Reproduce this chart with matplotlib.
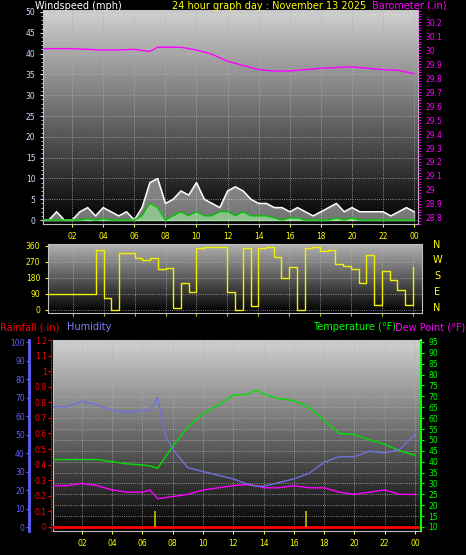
import numpy as np
import matplotlib
matplotlib.use("Agg")
import matplotlib.pyplot as plt
from matplotlib.ticker import MultipleLocator, FuncFormatter

# ---------------- data ----------------
half_hours = [i * 0.5 for i in range(49)]
wind_gust = [0,0,2,0,0,2,3,1,3,2,1,2,0,3,9,10,4,5,7,6,9,5,4,3,7,8,7,5,4,4,3,3,2,3,2,1,2,3,4,2,3,2,2,2,2,1,2,3,2]
wind_speed = [0,0,0,0,0,0,0.3,0,0.3,0,0,0,0,1,4,3,0,1,2,1,2,1,1,2,2,1,2,1,1,1,0.5,0,0.5,0.5,0,0,0,0,0.5,0,0.5,0,0,0,0,0,0,0,0]
wind_dir = [90,90,90,90,90,90,90,340,65,0,320,320,290,280,290,230,235,10,150,100,350,355,355,355,100,0,350,20,350,355,300,180,240,0,350,355,330,340,260,250,230,150,310,30,220,170,110,30,240]

baro_hours = [0,1,2,3,4,5,6,7,7.5,8,9,10,11,12,13,14,15,16,17,18,19,20,21,22,23,24]
baro = [30.01,30.01,30.01,30.005,30.0,30.0,30.005,29.99,30.02,30.02,30.02,30.0,29.97,29.92,29.89,29.86,29.85,29.85,29.86,29.87,29.875,29.88,29.87,29.86,29.855,29.83]

th_hours = [0,1,2,3,4,5,6,6.5,7,7.5,8,9,10,11,12,13,13.5,14,15,16,17,18,19,20,21,22,23,24]
humidity = [65,65,68,66,63,62,63,63,70,50,42,32,30,28,26,23,22,22,24,26,29,35,38,38,41,40,42,50]
temperature = [41,41,41,41,40,39,38.5,38,37,42,47,56,62,66,70.5,71,73,71,69,68,65,59,53,52.5,50,48,45,43]
dewpoint = [29,29,30,29,27,26,26,27,23,23.5,24,25,27,28,29,29.5,29,28,28,29,28,28,26,25,26,27,25,25]
rain_hours = [0, 24.2]
rainfall = [0, 0]
marker_hours = [6.8, 16.8]

xt = list(range(2, 25, 2))
xtl = ["%02d" % (h % 24) for h in xt]

W, H = 466, 555
PX = 0.72  # points per pixel at dpi 100
fig = plt.figure(figsize=(W/100, H/100), dpi=100, facecolor="black")
grad = np.linspace(1, 0, 256).reshape(-1, 1)

def bg(ax, top=0.82):
    ax.set_facecolor("black")
    ax.imshow(grad * top, cmap="gray", vmin=0, vmax=1, aspect="auto",
              extent=[0, 1, 0, 1], transform=ax.transAxes, zorder=0)
    ax.grid(True, color="#b0b0b0", linestyle=":", linewidth=0.6, zorder=1)
    for s in ax.spines.values():
        s.set_color("#c0c0c0")

def ax_rect(l, t, r, b):
    return [l/W, (H-b)/H, (r-l)/W, (b-t)/H]

fs = 5.5
# ---------------- top panel ----------------
ax1 = fig.add_axes(ax_rect(43, 10, 418, 224))
bg(ax1)
ax1.set_xlim(0.13, 24.25)
ax1.set_ylim(-0.96, 50.48)
ax1.fill_between(half_hours, wind_gust, color="#e8e8e8", alpha=0.5, zorder=2)
ax1.plot(half_hours, wind_gust, color="white", lw=1.0, zorder=3)
ax1.fill_between(half_hours, wind_speed, color="#a0f0a0", alpha=0.6, zorder=4)
ax1.plot(half_hours, wind_speed, color="#00c000", lw=1.0, zorder=5)
ax1.set_xticks(xt); ax1.set_xticklabels(xtl)
ax1.yaxis.set_major_locator(MultipleLocator(5))
ax1.yaxis.set_minor_locator(MultipleLocator(1))
ax1.tick_params(axis="x", colors="yellow", labelsize=fs, length=2, pad=4)
ax1.tick_params(axis="y", which="both", colors="#d0e0ff", labelsize=fs, length=2)
ax1.tick_params(axis="y", which="minor", length=1.5)
ax1b = ax1.twinx()
ax1b.set_ylim(28.757, 30.286)
ax1b.plot(baro_hours, baro, color="#ff00ff", lw=1.0, zorder=6)
ax1b.yaxis.set_major_locator(MultipleLocator(0.1))
ax1b.yaxis.set_minor_locator(MultipleLocator(0.02))
ax1b.yaxis.set_major_formatter(FuncFormatter(lambda v, p: "%g" % round(v, 1)))
ax1b.tick_params(axis="y", which="both", colors="#ff00ff", labelsize=fs, length=2)
for s in ax1b.spines.values():
    s.set_visible(False)
fig.text(35/W, 1-6/H, "Windspeed (mph)", color="white", fontsize=7, va="center")
fig.text(172/W, 1-6/H, "24 hour graph day : November 13 2025", color="yellow", fontsize=7, va="center")
fig.text(372/W, 1-6/H, "Barometer (.in)", color="#ff00ff", fontsize=7, va="center")

# ---------------- middle panel ----------------
ax2 = fig.add_axes(ax_rect(48, 244, 422, 313))
bg(ax2, top=0.7)
ax2.set_xlim(0.39, 24.6)
ax2.set_ylim(-17, 371)
ax2.step(half_hours, wind_dir, where="post", color="#f0f000", lw=1.0, zorder=3)
ax2.set_yticks([0, 90, 180, 270, 360])
ax2.set_xticks(xt)
ax2.tick_params(axis="x", colors="#c0c000", labelbottom=False, length=2)
ax2.tick_params(axis="y", colors="yellow", labelsize=fs, length=2)
for lbl, y in zip(["N", "W", "S", "E", "N"], [245, 260, 276, 292, 308]):
    fig.text(437/W, 1-y/H, lbl, color="yellow", fontsize=7, ha="center", va="center")

fig.text(0/W, 1-327/H, "Rainfall (.in)", color="red", fontsize=7, va="center")
fig.text(67/W, 1-327/H, "Humidity", color="#8080ff", fontsize=7, va="center")
fig.text(313/W, 1-327/H, "Temperature (°F)", color="#00ff00", fontsize=7, va="center")
fig.text(395/W, 1-327/H, "Dew Point (°F)", color="#ff00ff", fontsize=7, va="center")

# ---------------- bottom panel ----------------
ax3 = fig.add_axes(ax_rect(53, 340, 421, 531))
bg(ax3)
ax3.set_xlim(0.09, 24.4)
ax3.set_ylim(8.16, 95.9)
ax3.plot(th_hours, temperature, color="#00e000", lw=1.0, zorder=4)
ax3.plot(th_hours, dewpoint, color="#ff00ff", lw=1.0, zorder=4)

axh = ax3.twinx()
axr = ax3.twinx()

ax3.yaxis.tick_right()
ax3.yaxis.set_major_locator(MultipleLocator(5))
ax3.set_xticks(xt); ax3.set_xticklabels(xtl)
ax3.tick_params(axis="x", colors="yellow", labelsize=fs, length=2)
ax3.tick_params(axis="y", colors="#00ff00", labelsize=fs, length=2)
ax3.spines["right"].set_color("#00ff00"); ax3.spines["right"].set_linewidth(1.5)

axh.set_ylim(-2.16, 101.1)
axh.plot(th_hours, humidity, color="#7070e0", lw=1.0, zorder=4)
axh.yaxis.tick_left()
axh.yaxis.set_major_locator(MultipleLocator(10))
axh.spines["left"].set_position(("outward", 24 * PX))
axh.spines["left"].set_color("#6060ff"); axh.spines["left"].set_linewidth(2)
for k in ["right", "top", "bottom"]:
    axh.spines[k].set_visible(False)
axh.tick_params(axis="y", colors="#6060ff", labelsize=fs, length=2, pad=1)

axr.set_ylim(-0.026, 1.2)
axr.plot(rain_hours, rainfall, color="red", lw=2, zorder=5)
axr.vlines(marker_hours, 0, 0.1, color="#c0c000", lw=1.2, zorder=5)
axr.yaxis.tick_left()
axr.yaxis.set_major_locator(MultipleLocator(0.1))
axr.yaxis.set_major_formatter(FuncFormatter(lambda v, p: "%g" % round(v, 1)))
axr.spines["left"].set_position(("outward", 2 * PX))
axr.spines["left"].set_color("red"); axr.spines["left"].set_linestyle(":")
for k in ["right", "top", "bottom"]:
    axr.spines[k].set_visible(False)
axr.tick_params(axis="y", colors="red", labelsize=fs, length=2, pad=1)

fig.savefig("out.png", dpi=100, facecolor="black")
